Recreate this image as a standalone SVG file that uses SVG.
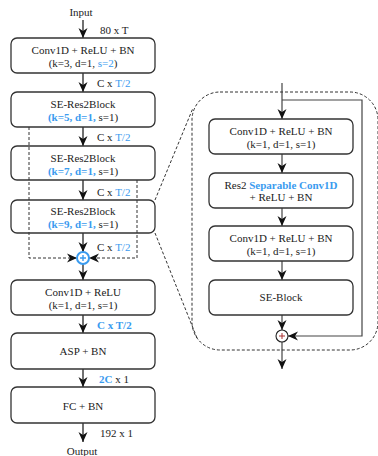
<svg xmlns="http://www.w3.org/2000/svg" width="378" height="456" viewBox="0 0 378 456">
  <style>
    text { font-family: "Liberation Serif", "Times New Roman", serif; font-size: 11px; fill: #222; }
    .c { text-anchor: middle; }
    .b { fill: #3a9bef; }
    .bb { fill: #3a9bef; font-weight: bold; }
    .box { fill: none; stroke: #333; stroke-width: 1.3; }
    .wire { fill: none; stroke: #111; stroke-width: 1.2; }
    .inner { fill: none; stroke: #444; stroke-width: 1.2; }
    .dash { fill: none; stroke: #333; stroke-width: 1; stroke-dasharray: 3 2; }
  </style>
  <defs>
    <marker id="arr" markerUnits="userSpaceOnUse" markerWidth="10" markerHeight="10" viewBox="0 0 10 10" refX="10" refY="5" orient="auto">
      <path d="M0,0.5 L10,5 L0,9.5 L3,5 z" fill="#111"/>
    </marker>
  </defs>

  <!-- connectors -->
  <g id="connectors">
    <line class="wire" x1="83" y1="20" x2="83" y2="38" marker-end="url(#arr)"/>
    <line class="wire" x1="83" y1="73" x2="83" y2="92" marker-end="url(#arr)"/>
    <line class="wire" x1="83" y1="127" x2="83" y2="146" marker-end="url(#arr)"/>
    <line class="wire" x1="83" y1="180" x2="83" y2="200" marker-end="url(#arr)"/>
    <line class="wire" x1="83" y1="233" x2="83" y2="252" marker-end="url(#arr)"/>
    <line class="wire" x1="83" y1="264" x2="83" y2="280" marker-end="url(#arr)"/>
    <line class="wire" x1="83" y1="315" x2="83" y2="333" marker-end="url(#arr)"/>
    <line class="wire" x1="83" y1="369" x2="83" y2="387" marker-end="url(#arr)"/>
    <line class="wire" x1="83" y1="423" x2="83" y2="442" marker-end="url(#arr)"/>
    <!-- residual shortcuts -->
    <polyline class="dash" points="29,127 29,258 77,258" marker-end="url(#arr)"/>
    <polyline class="dash" points="137,180 137,258 89,258" marker-end="url(#arr)"/>
    <!-- zoom lines to detail panel -->
    <line class="dash" x1="155" y1="200" x2="193" y2="108"/>
    <line class="dash" x1="155" y1="233" x2="197" y2="338"/>
    <!-- detail panel wiring -->
    <line class="inner" x1="282" y1="83" x2="282" y2="119" marker-end="url(#arr)"/>
    <polyline class="inner" points="282,100 362,100 362,336 288,336" marker-end="url(#arr)"/>
    <line class="inner" x1="282" y1="154" x2="282" y2="173" marker-end="url(#arr)"/>
    <line class="inner" x1="282" y1="208" x2="282" y2="226" marker-end="url(#arr)"/>
    <line class="inner" x1="282" y1="261" x2="282" y2="280" marker-end="url(#arr)"/>
    <line class="inner" x1="282" y1="315" x2="282" y2="330" marker-end="url(#arr)"/>
    <line class="inner" x1="282" y1="342" x2="282" y2="369" marker-end="url(#arr)"/>
  </g>

  <!-- shape labels -->
  <text class="c" x="81" y="16">Input</text>
  <text x="100" y="34">80 x T</text>
  <text x="97" y="87">C x <tspan class="b">T/2</tspan></text>
  <text x="97" y="141">C x <tspan class="b">T/2</tspan></text>
  <text x="97" y="196">C x <tspan class="b">T/2</tspan></text>
  <text x="97" y="251">C x <tspan class="b">T/2</tspan></text>
  <text x="97" y="329" class="bb">C x T/2</text>
  <text x="99" y="383"><tspan class="bb">2C</tspan> x 1</text>
  <text x="100" y="437">192 x 1</text>
  <text class="c" x="82" y="455">Output</text>

  <!-- main stack -->
  <g id="conv-in">
    <rect class="box" x="11" y="38" width="144" height="35" rx="6"/>
    <text class="c" x="83" y="54">Conv1D + ReLU + BN</text>
    <text class="c" x="83" y="67">(k=3, d=1, <tspan class="b">s=2</tspan>)</text>
  </g>
  <g id="se-res2-1">
    <rect class="box" x="11" y="92" width="144" height="35" rx="6"/>
    <text class="c" x="83" y="108">SE-Res2Block</text>
    <text class="c" x="83" y="121"><tspan class="bb">(k=5, d=1,</tspan> s=1)</text>
  </g>
  <g id="se-res2-2">
    <rect class="box" x="11" y="146" width="144" height="34" rx="6"/>
    <text class="c" x="83" y="162">SE-Res2Block</text>
    <text class="c" x="83" y="175"><tspan class="bb">(k=7, d=1,</tspan> s=1)</text>
  </g>
  <g id="se-res2-3">
    <rect class="box" x="11" y="200" width="144" height="33" rx="6"/>
    <text class="c" x="83" y="215">SE-Res2Block</text>
    <text class="c" x="83" y="228"><tspan class="bb">(k=9, d=1,</tspan> s=1)</text>
  </g>
  <g id="sum-main">
    <circle cx="83" cy="258" r="6" fill="#fff" stroke="#3a9bef" stroke-width="2"/>
    <path d="M80,258 H86 M83,255 V261" stroke="#3a9bef" stroke-width="1.4"/>
  </g>
  <g id="conv-out">
    <rect class="box" x="11" y="280" width="144" height="35" rx="6"/>
    <text class="c" x="83" y="296">Conv1D + ReLU</text>
    <text class="c" x="83" y="309">(k=1, d=1, s=1)</text>
  </g>
  <g id="asp">
    <rect class="box" x="11" y="333" width="144" height="36" rx="6"/>
    <text class="c" x="83" y="355">ASP + BN</text>
  </g>
  <g id="fc">
    <rect class="box" x="11" y="387" width="144" height="36" rx="6"/>
    <text class="c" x="83" y="410">FC + BN</text>
  </g>

  <!-- SE-Res2Block detail panel -->
  <g id="detail-panel">
    <rect class="dash" x="192" y="92" width="186" height="258" rx="28"/>
  </g>
  <g id="blk-conv-a">
    <rect class="box" x="209" y="119" width="144" height="35" rx="6"/>
    <text class="c" x="281" y="135">Conv1D + ReLU + BN</text>
    <text class="c" x="281" y="148">(k=1, d=1, s=1)</text>
  </g>
  <g id="blk-res2">
    <rect class="box" x="209" y="173" width="144" height="35" rx="6"/>
    <text class="c" x="281" y="189">Res2 <tspan class="bb">Separable Conv1D</tspan></text>
    <text class="c" x="281" y="201">+ ReLU + BN</text>
  </g>
  <g id="blk-conv-b">
    <rect class="box" x="209" y="226" width="144" height="35" rx="6"/>
    <text class="c" x="281" y="242">Conv1D + ReLU + BN</text>
    <text class="c" x="281" y="255">(k=1, d=1, s=1)</text>
  </g>
  <g id="blk-se">
    <rect class="box" x="209" y="280" width="144" height="35" rx="6"/>
    <text class="c" x="281" y="301">SE-Block</text>
  </g>
  <g id="sum-detail">
    <circle cx="282" cy="336" r="6" fill="#fff" stroke="#222" stroke-width="1.1"/>
    <path d="M279,336 H285 M282,333 V339" stroke="#a33" stroke-width="1"/>
  </g>
</svg>
